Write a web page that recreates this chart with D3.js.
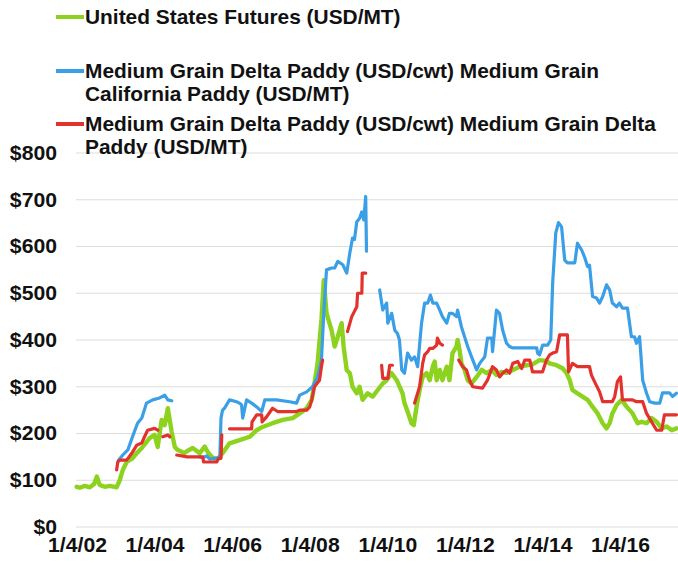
<!DOCTYPE html>
<html><head><meta charset="utf-8">
<script src="https://cdn.jsdelivr.net/npm/d3@7"></script>
<style>
html,body{margin:0;padding:0;background:#fff;}
svg{display:block;font-family:"Liberation Sans",Arial,sans-serif;font-weight:bold;}
</style></head>
<body>
<svg id="chart" width="678" height="566"></svg>
<script>
// ---- data (decimal years, USD) ----
const seriesNames = [
  ["United States Futures (USD/MT)"],
  ["Medium Grain Delta Paddy (USD/cwt) Medium Grain", "California Paddy (USD/MT)"],
  ["Medium Grain Delta Paddy (USD/cwt) Medium Grain Delta", "Paddy (USD/MT)"]
];
const seriesColors = ["#8dd21f", "#3a9fe6", "#e2322e"];

const greenYears = [2002.00,2002.08,2002.21,2002.34,2002.45,2002.52,2002.59,2002.72,2002.85,2003.03,2003.11,2003.19,2003.29,2003.44,2003.55,2003.68,2003.88,2004.01,2004.09,2004.19,2004.27,2004.35,2004.45,2004.53,2004.60,2004.78,2004.84,2004.99,2005.17,2005.30,2005.38,2005.48,2005.61,2005.76,2005.94,2006.20,2006.46,2006.64,2006.79,2007.05,2007.31,2007.57,2007.75,2007.93,2008.06,2008.13,2008.21,2008.31,2008.37,2008.44,2008.49,2008.57,2008.65,2008.73,2008.83,2008.88,2008.96,2009.04,2009.11,2009.22,2009.29,2009.37,2009.50,2009.63,2009.76,2009.89,2009.99,2010.12,2010.25,2010.40,2010.45,2010.53,2010.63,2010.69,2010.76,2010.84,2010.92,2011.02,2011.10,2011.18,2011.23,2011.28,2011.36,2011.43,2011.54,2011.61,2011.66,2011.69,2011.79,2011.82,2011.87,2011.92,2012.00,2012.08,2012.18,2012.31,2012.44,2012.57,2012.70,2012.82,2012.95,2013.08,2013.24,2013.42,2013.60,2013.75,2013.93,2014.11,2014.19,2014.37,2014.53,2014.63,2014.71,2014.78,2014.91,2015.04,2015.17,2015.30,2015.43,2015.56,2015.66,2015.74,2015.81,2015.92,2016.05,2016.18,2016.33,2016.46,2016.56,2016.69,2016.82,2016.95,2017.08,2017.21,2017.34,2017.46];
const greenValues = [86,84,88,85,92,108,90,86,88,85,100,122,139,147,158,169,190,197,171,229,218,254,203,171,165,158,162,169,158,172,160,150,143,158,179,186,193,207,214,222,229,233,243,254,272,307,350,443,528,458,443,421,386,407,436,386,336,329,300,286,300,272,286,279,293,307,314,329,314,286,265,247,222,218,257,293,321,329,314,343,354,314,336,314,343,314,350,372,386,400,379,350,336,314,307,321,336,329,336,325,332,330,336,343,346,348,357,355,350,346,339,329,314,293,286,279,272,257,243,222,211,222,243,261,272,257,243,222,225,222,233,225,211,215,207,211];

const blueYears = [2003.08,2003.19,2003.32,2003.44,2003.57,2003.68,2003.80,2003.96,2004.14,2004.27,2004.35,2004.45,2004.8,2005.17,2005.25,2005.35,2005.43,2005.61,2005.69,2005.72,2005.76,2005.81,2005.94,2006.12,2006.20,2006.25,2006.28,2006.38,2006.51,2006.64,2006.77,2006.85,2007.15,2007.49,2007.67,2007.75,2007.93,2008.08,2008.21,2008.31,2008.37,2008.44,2008.57,2008.65,2008.73,2008.86,2008.96,2009.04,2009.11,2009.16,2009.22,2009.29,2009.35,2009.40,2009.45,2009.47,2009.6,2009.81,2009.89,2009.99,2010.02,2010.12,2010.20,2010.27,2010.32,2010.38,2010.45,2010.53,2010.63,2010.71,2010.79,2010.89,2010.97,2011.05,2011.12,2011.18,2011.28,2011.36,2011.43,2011.54,2011.61,2011.69,2011.79,2011.82,2011.92,2012.00,2012.08,2012.18,2012.31,2012.39,2012.52,2012.59,2012.70,2012.72,2012.82,2012.90,2012.98,2013.08,2013.16,2013.24,2013.68,2013.86,2013.88,2013.93,2014.01,2014.14,2014.22,2014.27,2014.35,2014.42,2014.50,2014.58,2014.65,2014.84,2014.91,2015.02,2015.09,2015.17,2015.22,2015.30,2015.40,2015.48,2015.56,2015.66,2015.74,2015.81,2015.92,2015.99,2016.07,2016.20,2016.30,2016.38,2016.43,2016.51,2016.59,2016.69,2016.77,2016.90,2017.03,2017.10,2017.28,2017.36,2017.46];
const blueValues = [143,154,165,193,222,233,265,272,276,282,272,270,null,150,148,152,145,148,148,233,250,254,272,268,265,261,233,272,265,257,247,272,272,268,265,282,289,300,321,357,457,550,554,554,568,561,543,586,618,615,653,660,674,657,707,590,null,507,464,479,436,457,421,414,400,336,329,372,357,364,343,436,479,479,496,479,479,464,450,436,457,457,450,464,428,407,386,364,336,350,364,404,404,375,464,457,421,393,386,383,383,383,372,368,389,389,400,522,629,651,642,571,565,565,607,592,578,557,560,493,490,479,493,518,507,479,471,479,468,468,407,407,393,407,314,286,268,265,265,287,287,279,286];

const redYears = [2003.03,2003.06,2003.11,2003.29,2003.44,2003.55,2003.68,2003.75,2003.83,2004.01,2004.09,2004.15,2004.22,2004.35,2004.40,2004.5,2004.58,2004.84,2005.25,2005.27,2005.61,2005.66,2005.72,2005.74,2005.85,2005.94,2006.51,2006.52,2006.64,2006.77,2006.78,2006.90,2007.05,2007.18,2007.67,2007.75,2007.93,2008.01,2008.06,2008.13,2008.26,2008.31,2008.34,2008.6,2008.98,2009.09,2009.22,2009.24,2009.35,2009.36,2009.45,2009.6,2009.86,2009.89,2010.02,2010.07,2010.14,2010.4,2010.71,2010.84,2010.92,2010.97,2011.05,2011.10,2011.18,2011.28,2011.30,2011.36,2011.43,2011.6,2011.85,2011.95,2012.05,2012.13,2012.21,2012.46,2012.59,2012.72,2012.82,2012.90,2012.98,2013.08,2013.16,2013.24,2013.37,2013.47,2013.55,2013.68,2013.75,2014.01,2014.11,2014.19,2014.27,2014.37,2014.45,2014.65,2014.68,2014.78,2014.91,2015.22,2015.27,2015.35,2015.48,2015.56,2015.81,2015.87,2015.94,2016.02,2016.07,2016.33,2016.43,2016.59,2016.69,2016.82,2016.95,2017.08,2017.15,2017.46];
const redValues = [122,139,143,143,160,175,180,193,207,211,207,null,193,197,193,null,154,150,150,139,139,147,147,197,null,210,210,225,240,240,225,236,254,247,247,250,250,257,272,300,314,343,357,null,418,450,471,500,500,543,543,null,346,318,318,346,346,null,265,300,350,368,375,382,382,389,404,393,389,null,357,343,336,314,300,297,314,343,336,321,329,336,329,350,354,339,357,357,332,332,357,368,372,375,411,411,332,350,343,343,325,311,289,268,268,279,311,321,272,272,268,268,243,225,207,207,240,240];

const yTickValues = [0,100,200,300,400,500,600,700,800];
const xTickLabels = ["1/4/02","1/4/04","1/4/06","1/4/08","1/4/10","1/4/12","1/4/14","1/4/16"];
const xTickYears = [2002,2004,2006,2008,2010,2012,2014,2016];

// ---- helpers ----
function decToDate(t){
  const y = Math.floor(t);
  const start = new Date(y,0,1).getTime(), end = new Date(y+1,0,1).getTime();
  return new Date(start + (t-y)*(end-start));
}
function build(years, values){
  return years.map((t,i)=>({date: decToDate(t), v: values[i]}));
}
const FONT = "'Liberation Sans',Arial,sans-serif";
const SX = 1.06; // slight horizontal stretch of text

const svg = d3.select("#chart");
const x = d3.scaleTime()
  .domain([new Date(2002,0,4), decToDate(2017.5)])
  .range([77, 678]);
const y = d3.scaleLinear().domain([0,800]).range([527,153]);

// gridlines
svg.append("g").selectAll("line").data(yTickValues).join("line")
  .attr("x1",76).attr("x2",678)
  .attr("y1",d=>y(d)).attr("y2",d=>y(d))
  .attr("stroke","#dcdcdc").attr("stroke-width",1);

// y axis labels
const yAxis = d3.axisLeft(y).tickValues(yTickValues).tickSize(0).tickPadding(0)
  .tickFormat(d=>"$"+d);
const gy = svg.append("g").attr("transform","translate(57,0)").call(yAxis);
gy.select(".domain").remove();
gy.selectAll(".tick").each(function(){
  const t = d3.select(this).attr("transform");
  d3.select(this).attr("transform", t + " scale(" + SX + ",1)");
});
gy.selectAll("text").attr("font-size",20).attr("font-weight","bold")
  .attr("font-family",FONT).attr("fill","#111");

// x axis labels
const xTickDates = xTickYears.map(yr=>new Date(yr,0,4));
const xAxis = d3.axisBottom(x).tickValues(xTickDates).tickSize(0).tickPadding(0)
  .tickFormat((d,i)=>xTickLabels[i]);
const gx = svg.append("g").attr("transform","translate(0,538)").call(xAxis);
gx.select(".domain").remove();
gx.selectAll(".tick").each(function(){
  const t = d3.select(this).attr("transform");
  d3.select(this).attr("transform", t + " scale(" + SX + ",1)");
});
gx.selectAll("text").attr("font-size",20).attr("font-weight","bold")
  .attr("font-family",FONT).attr("fill","#111");

// lines
const line = d3.line().defined(d=>d.v!=null).x(d=>x(d.date)).y(d=>y(d.v));
const series = [
  {data: build(greenYears, greenValues), color: seriesColors[0], w: 4.4},
  {data: build(blueYears, blueValues), color: seriesColors[1], w: 3.2},
  {data: build(redYears, redValues), color: seriesColors[2], w: 3.2}
];
svg.append("g").selectAll("path").data(series).join("path")
  .attr("d",d=>line(d.data)).attr("fill","none")
  .attr("stroke",d=>d.color).attr("stroke-width",d=>d.w)
  .attr("stroke-linejoin","round").attr("stroke-linecap","round");

// legend
const legendY = [17, 71, 124];
const lg = svg.append("g");
seriesNames.forEach((lines,i)=>{
  lg.append("line").attr("x1",56).attr("x2",84)
    .attr("y1",legendY[i]).attr("y2",legendY[i])
    .attr("stroke",seriesColors[i]).attr("stroke-width",4);
  const tg = lg.append("g").attr("transform","translate(85," + legendY[i] + ") scale(1.045,1)");
  lines.forEach((txt,j)=>{
    tg.append("text").attr("x",0).attr("y",j*23)
      .attr("dy","0.35em").attr("font-size",20).attr("font-family",FONT)
      .attr("fill","#111").text(txt);
  });
});
</script>
</body></html>
